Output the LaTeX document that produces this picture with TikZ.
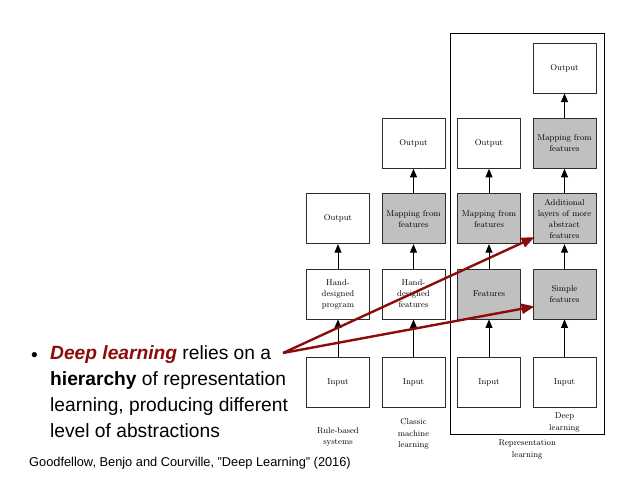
\documentclass[tikz,border=0pt]{standalone}
\usepackage{fontspec}
\setsansfont{Liberation Sans}
\usepackage{tikz}
\usetikzlibrary{arrows.meta,positioning,calc,fit}
\usepackage{xcolor}
\definecolor{darkred}{RGB}{140,12,12}
\definecolor{ink}{RGB}{45,45,45}
\definecolor{shade}{RGB}{192,192,192}
\tikzset{
  box/.style={draw=ink,line width=0.9pt,fill=white,minimum width=63pt,minimum height=50pt,
    inner sep=0pt,align=center,font=\fontsize{8.5}{11}\selectfont},
  gbox/.style={box,fill=shade},
  lbl/.style={inner sep=0pt,align=center,font=\fontsize{8.5}{11.5}\selectfont},
  arr/.style={-{Triangle[length=8.5pt,width=7pt]},line width=0.9pt,black},
  redarr/.style={-{Triangle[length=13pt,width=10pt]},line width=2.4pt,darkred},
  frame/.style={draw=black,line width=1pt,inner sep=0pt},
  bodytext/.style={inner sep=0pt,align=left,font=\sffamily\fontsize{19.2}{26}\selectfont},
}

\begin{document}
\begin{tikzpicture}[x=1pt,y=1pt,node distance=24.4pt and 11.6pt]
  \useasboundingbox (0,0) rectangle (638,479);
  % inputs
  \node[box] (in1) at (338,97) {Input};
  \node[box,right=of in1] (in2) {Input};
  \node[box,right=of in2] (in3) {Input};
  \node[box,right=of in3] (in4) {Input};
  % rule-based
  \node[box,above=37.1pt of in1] (hand1) {Hand-\\designed\\program};
  \node[box,above=of hand1] (out1) {Output};
  % classic ml
  \node[box,above=37.1pt of in2] (hand2) {Hand-\\designed\\features};
  \node[gbox,above=of hand2] (map2) {Mapping from\\features};
  \node[box,above=of map2] (out2) {Output};
  % representation learning
  \node[gbox,above=37.1pt of in3] (feat3) {Features};
  \node[gbox,above=of feat3] (map3) {Mapping from\\features};
  \node[box,above=of map3] (out3) {Output};
  % deep learning
  \node[gbox,above=37.1pt of in4] (simp4) {Simple\\features};
  \node[gbox,above=of simp4] (add4) {Additional\\layers of more\\abstract\\features};
  \node[gbox,above=of add4] (map4) {Mapping from\\features};
  \node[box,above=of map4] (out4) {Output};
  \foreach \a/\b in {in1/hand1,hand1/out1,in2/hand2,hand2/map2,map2/out2,
                     in3/feat3,feat3/map3,map3/out3,in4/simp4,simp4/add4,add4/map4,map4/out4}
    \draw[arr] (\a) -- (\b);
  % captions
  \node[lbl,below=19.5pt of in1] (rule) {Rule-based\\systems};
  \node[lbl,below=11pt of in2] (classic) {Classic\\machine\\learning};
  \node[lbl,below=5.5pt of in4] (deep) {Deep\\learning};
  \coordinate (fb) at ($(in3.south west)+(-7,-27)$);
  \coordinate (ft) at ($(out4.north east)+(8,9)$);
  \node[frame,fit=(fb)(ft)] (rep) {};
  \node[lbl,below=5pt of rep] (replbl) {Representation\\learning};
  % bullet text
  \node[inner sep=0pt,anchor=base west,font=\sffamily\fontsize{19.2}{26}\selectfont] (dot) at (31,117.3) {\textbullet};
  \node[bodytext,anchor=base west] (body) at (50,41)
    {\textcolor{darkred}{\textbf{\textit{Deep learning}}} relies on a\\
     \textbf{hierarchy} of representation\\
     learning, producing different\\
     level of abstractions};
  \node[inner sep=0pt,anchor=base west,font=\sffamily\fontsize{12.8}{15}\selectfont] (ref) at (29,12.3)
    {Goodfellow, Benjo and Courville, \symbol{34}Deep Learning\symbol{34} (2016)};
  % pointers
  \coordinate (src) at (283,126);
  \coordinate (tipA) at ($(add4.south west)+(2,7)$);
  \coordinate (tipB) at ($(simp4.south west)+(2,13)$);
  \draw[redarr] (src) -- (tipA);
  \draw[redarr] (src) -- (tipB);
\end{tikzpicture}
\end{document}
